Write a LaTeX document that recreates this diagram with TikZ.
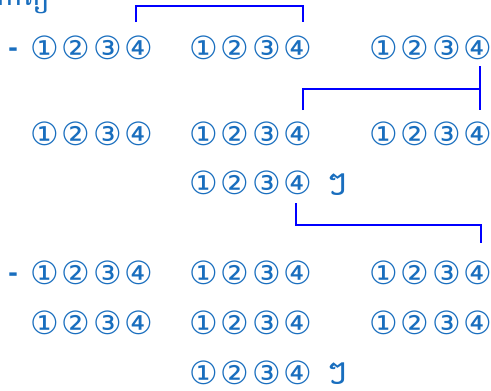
\documentclass[tikz,border=0pt]{standalone}
\usepackage{fontspec}
\newfontfamily\digfont{DejaVu Sans}
\newfontfamily\khmerfont[Script=Khmer]{Battambang}
\definecolor{txtblue}{RGB}{25,110,190}
\definecolor{lineblue}{RGB}{0,0,255}
\newcommand{\cdig}[1]{\makebox[31.5pt][l]{#1}}
\newcommand{\grp}{\cdig{①}\cdig{②}\cdig{③}\makebox[22pt][l]{④}}
\tikzset{
  grp/.style={anchor=west,inner sep=0pt,text=txtblue,font=\digfont\fontsize{32}{32}\selectfont},
  khm/.style={anchor=west,inner sep=0pt,text=txtblue,font=\khmerfont\fontsize{34}{34}\selectfont},
  dashmark/.style={anchor=center,inner sep=0pt,text=txtblue,font=\digfont\bfseries\fontsize{24}{24}\selectfont},
  br/.style={draw=lineblue,line width=1.4pt}
}
\begin{document}
\begin{tikzpicture}[x=1pt,y=-1pt]
\useasboundingbox (0,0) rectangle (491,391);
\clip (0,0) rectangle (491,391);
% title (cut off at top)
\node[khm,anchor=base west,font=\khmerfont\fontsize{30}{30}\selectfont] (title) at (-4,5) {កាព្យ};
% row 1
\node[dashmark] (d1) at (13,52) {-};
\node[grp] (g11) at (30,47.5) {\grp};
\node[grp] (g12) at (189,47.5) {\grp};
\node[grp] (g13) at (369,47.5) {\grp};
% row 2
\node[grp] (g21) at (30,133.5) {\grp};
\node[grp] (g22) at (189,133.5) {\grp};
\node[grp] (g23) at (369,133.5) {\grp};
% row 3
\node[grp] (g3) at (189,182.5) {\grp};
\node[khm] (r3) at (326,184.5) {ៗ};
% row 4
\node[dashmark] (d4) at (13,277) {-};
\node[grp] (g41) at (30,273) {\grp};
\node[grp] (g42) at (189,273) {\grp};
\node[grp] (g43) at (369,273) {\grp};
% row 5
\node[grp] (g51) at (30,323) {\grp};
\node[grp] (g52) at (189,323) {\grp};
\node[grp] (g53) at (369,323) {\grp};
% row 6
\node[grp] (g6) at (189,372.5) {\grp};
\node[khm] (r6) at (326,374) {ៗ};
% brackets
\coordinate (a1) at (136,22);
\coordinate (a2) at (303,22);
\draw[br] (a1) -- (136,6) -| (a2);
\coordinate (b1) at (480,66);
\coordinate (b2) at (480,110);
\coordinate (b3) at (303,110);
\draw[br] (b1) -- (b2);
\draw[br] (b3) |- (480,89);
\coordinate (c1) at (296,203);
\coordinate (c2) at (481,243);
\draw[br] (c1) |- (481,225) -- (c2);
\end{tikzpicture}
\end{document}
